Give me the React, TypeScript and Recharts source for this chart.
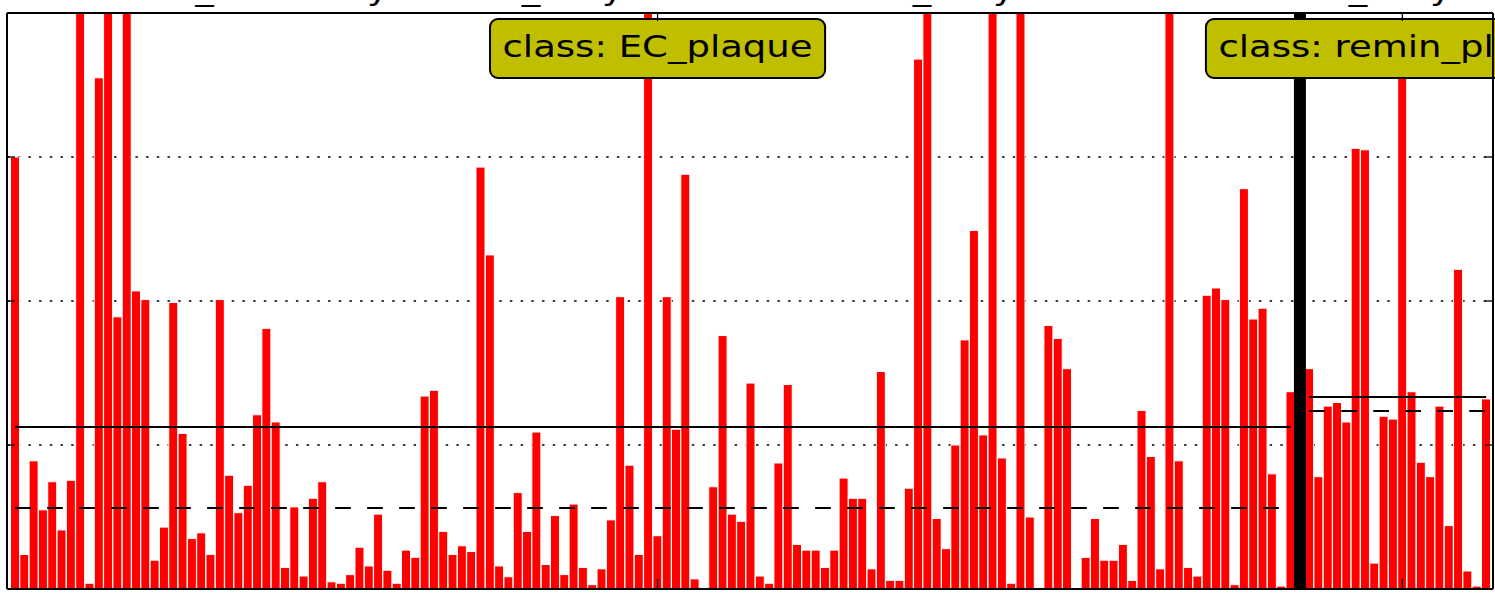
import React from "react";
import { BarChart, Bar, XAxis, YAxis, CartesianGrid, ReferenceLine, Label } from "recharts";

// ---- data ----
const ecPlaqueValues: number[] = [
  3.0, 0.24, 0.89, 0.55, 0.745, 0.41, 0.755, 5.2, 0.04, 3.55,
  6.6, 1.89, 5.5, 2.07, 2.01, 0.2, 0.43, 1.99, 1.08, 0.35,
  0.39, 0.24, 2.01, 0.79, 0.53, 0.72, 1.21, 1.81, 1.16, 0.15,
  0.57, 0.09, 0.63, 0.745, 0.05, 0.04, 0.1, 0.29, 0.16, 0.52,
  0.13, 0.04, 0.27, 0.22, 1.34, 1.38, 0.4, 0.24, 0.3, 0.26,
  2.93, 2.32, 0.16, 0.085, 0.67, 0.4, 1.09, 0.17, 0.51, 0.1,
  0.59, 0.15, 0.03, 0.14, 0.48, 2.03, 0.86, 0.24, 6.3, 0.37,
  2.03, 1.11, 2.88, 0.07, 0.0, 0.71, 1.76, 0.52, 0.47, 1.43,
  0.09, 0.04, 0.875, 1.42, 0.31, 0.27, 0.27, 0.15, 0.27, 0.77,
  0.63, 0.63, 0.14, 1.51, 0.06, 0.06, 0.7, 3.68, 5.0, 0.49,
  0.28, 1.0, 1.73, 2.49, 1.07, 6.8, 0.91, 0.04, 5.9, 0.5,
  0.0, 1.83, 1.74, 1.53, 0.0, 0.22, 0.49, 0.2, 0.2, 0.31,
  0.06, 1.24, 0.92, 0.14, 6.5, 0.89, 0.15, 0.09, 2.04, 2.09,
  2.01, 0.03, 2.78, 1.875, 1.95, 0.8, 0.02, 1.37,
];
const reminPlaqueValues: number[] = [
  1.53, 0.78, 1.27, 1.295, 1.16, 3.06, 3.05, 0.18, 1.2, 1.18,
  3.8, 1.37, 0.88, 0.78, 1.27, 0.44, 2.22, 0.125, 0.02, 1.32,
];
const classNames: string[] = ["EC_plaque", "remin_plaque"];
const classMeans: number[] = [1.125, 1.333];
const classMedians: number[] = [0.5625, 1.236];
const yTicks: number[] = [0, 1, 2, 3, 4];
const titleFragments: { text: string; x: number }[] = [
  { text: "_", x: 204.5 }, { text: "y", x: 378 },
  { text: "_", x: 531 }, { text: "y", x: 613 },
  { text: "_", x: 922 }, { text: "y", x: 1004 },
  { text: "_", x: 1358 }, { text: "y", x: 1441 },
];

// ---- build table ----
const classValues: number[][] = [ecPlaqueValues, reminPlaqueValues];
type Row = { id: string; value: number | null };
const data: Row[] = [];
const classRanges: { first: string; last: string; mid: string }[] = [];
const separatorIds: string[] = [];
classValues.forEach((vals, ci) => {
  if (ci > 0) {
    const sid = `s${data.length + 1}`;
    separatorIds.push(sid);
    data.push({ id: sid, value: null });
  }
  const start = data.length;
  vals.forEach((v) => data.push({ id: `s${data.length + 1}`, value: v }));
  classRanges.push({
    first: `s${start + 1}`,
    last: `s${start + vals.length}`,
    mid: `s${start + Math.floor(vals.length / 2) + 1}`,
  });
});
const classTickIds = classRanges.map((r) => r.mid);

const FONT = "DejaVu Sans";
const FS = 29.5;
const SX = 1.255;

function measure(text: string): number {
  const ctx = document.createElement("canvas").getContext("2d");
  if (!ctx) return text.length * FS * 0.55;
  ctx.font = `${FS}px '${FONT}'`;
  return ctx.measureText(text).width;
}

const ClassBox = (props: any) => {
  const { viewBox, name } = props;
  const cx = viewBox.x + (viewBox.width || 0) / 2;
  const top = viewBox.y;
  const text = `class: ${name}`;
  const w = measure(text) * SX + 25;
  return (
    <g>
      <rect x={cx - w / 2} y={top + 6} width={w} height={59} rx={8} ry={8} fill="#bfbf00" stroke="#000" strokeWidth={2} />
      <text
        x={0}
        y={0}
        transform={`translate(${cx},${top + 44}) scale(${SX},1)`}
        textAnchor="middle"
        fontFamily={FONT}
        fontSize={FS}
        fill="#000"
      >
        {text}
      </text>
    </g>
  );
};

const Empty = () => <g />;

const axisLineStyle = { stroke: "#000", strokeWidth: 2 };
const tickLineStyle = { stroke: "#000", strokeWidth: 1.3 };

export default function App() {
  return (
    <div style={{ position: "absolute", left: 0, top: 0, width: 1495, height: 600, background: "#fff", overflow: "hidden" }}>
      <BarChart
        width={1495}
        height={600}
        data={data}
        margin={{ top: 12, right: 1, bottom: 10, left: 6 }}
        barCategoryGap={0}
        barGap={0}
      >
        <Bar
          xAxisId="bottom"
          yAxisId="left"
          dataKey="value"
          fill="#ff0000"
          stroke="#ffffff"
          strokeWidth={1}
          isAnimationActive={false}
        />
        <CartesianGrid
          xAxisId="bottom"
          yAxisId="left"
          vertical={false}
          stroke="#000"
          strokeWidth={1.5}
          strokeDasharray="2.5 8.2"
        />
        {classRanges.map((r, i) => (
          <ReferenceLine
            key={`mean-${i}`}
            xAxisId="bottom"
            yAxisId="left"
            segment={[{ x: r.first, y: classMeans[i] }, { x: r.last, y: classMeans[i] }]}
            stroke="#000"
            strokeWidth={2}
          />
        ))}
        {classRanges.map((r, i) => (
          <ReferenceLine
            key={`median-${i}`}
            xAxisId="bottom"
            yAxisId="left"
            segment={[{ x: r.first, y: classMedians[i] }, { x: r.last, y: classMedians[i] }]}
            stroke="#000"
            strokeWidth={2}
            strokeDasharray="15.7 16.3"
          />
        ))}
        {separatorIds.map((sid) => (
          <ReferenceLine key={sid} xAxisId="bottom" yAxisId="left" x={sid} stroke="#000" strokeWidth={12} />
        ))}
        <XAxis
          xAxisId="bottom"
          dataKey="id"
          height={1}
          padding={{ left: 3.5, right: 2.2 }}
          ticks={classTickIds}
          interval={0}
          tickSize={-10}
          tick={<Empty />}
          axisLine={axisLineStyle}
          tickLine={tickLineStyle}
        />
        <XAxis
          xAxisId="top"
          orientation="top"
          dataKey="id"
          height={1}
          padding={{ left: 3.5, right: 2.2 }}
          ticks={classTickIds}
          interval={0}
          tickSize={-8}
          tick={<Empty />}
          axisLine={axisLineStyle}
          tickLine={tickLineStyle}
        />
        <YAxis
          yAxisId="left"
          type="number"
          domain={[0, 4]}
          allowDataOverflow
          ticks={yTicks}
          width={1}
          tickSize={-8}
          tick={<Empty />}
          axisLine={axisLineStyle}
          tickLine={tickLineStyle}
        />
        <YAxis
          yAxisId="right"
          orientation="right"
          type="number"
          domain={[0, 4]}
          allowDataOverflow
          ticks={yTicks}
          width={1}
          tickSize={-8}
          tick={<Empty />}
          axisLine={axisLineStyle}
          tickLine={tickLineStyle}
        />
        {classRanges.map((r, i) => (
          <ReferenceLine
            key={`label-${i}`}
            xAxisId="bottom"
            yAxisId="left"
            x={r.mid}
            stroke="none"
            label={<Label content={<ClassBox name={classNames[i]} />} />}
          />
        ))}
      </BarChart>
      <svg width={1495} height={600} style={{ position: "absolute", left: 0, top: 0, pointerEvents: "none" }}>
        {titleFragments.map((f, i) => (
          <text
            key={i}
            x={0}
            y={0}
            transform={`translate(${f.x},0) scale(${SX},1)`}
            textAnchor="middle"
            fontFamily={FONT}
            fontSize={FS}
            fill="#000"
          >
            {f.text}
          </text>
        ))}
      </svg>
    </div>
  );
}
